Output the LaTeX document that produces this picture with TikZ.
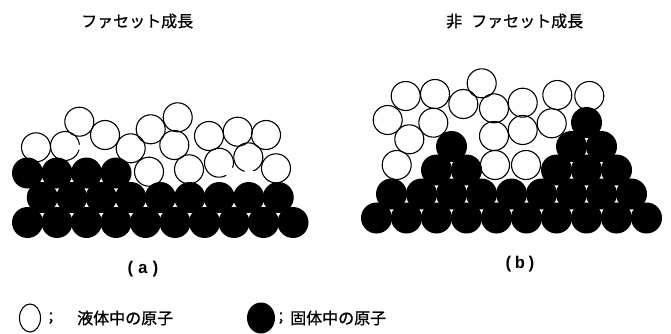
\documentclass[tikz,border=0pt]{standalone}
\usepackage{fontspec}
\newfontfamily\jpfont{Noto Sans CJK JP}[FakeBold=0.9]
\newfontfamily\labelfont{Liberation Mono}
\begin{document}
\begin{tikzpicture}[x=1pt,y=-1pt,
  solidatom/.style={fill=black},
  liquidatom/.style={draw=black,line width=1.1pt},
  heading/.style={font=\jpfont\fontsize{16}{16}\selectfont,inner sep=0pt,anchor=west},
  panellabel/.style={font=\labelfont\bfseries\fontsize{17}{17}\selectfont,inner sep=0pt},
  legendtext/.style={font=\jpfont\fontsize{16}{16}\selectfont,inner sep=0pt,anchor=west}]
\useasboundingbox (0,0) rectangle (671,334);

% headings
\node[heading] (ha) at (81,21) {ファセット成長};
\node[heading] (hb) at (446,21) {非\hspace{9pt}ファセット成長};

% ---------- (a) facet growth ----------
% liquid atoms
\foreach \x/\y in {36/147.3, 79.3/121.7, 105/135, 130.7/148.3, 150.7/129.3,
                   177.7/117.3, 174.3/145, 149/171.7, 189/169.3, 209/136,
                   237.7/131.7, 266/135, 276/168.3}
  \draw[liquidatom] (\x,\y) circle (14.5);
\draw[liquidatom] (65,146) ++(15:14.5) arc[start angle=15,end angle=355,radius=14.5];
\draw[liquidatom] (219,162.7) ++(60:14.5) arc[start angle=60,end angle=380,radius=14.5];
\draw[liquidatom] (248.3,157.3) ++(105:14.5) arc[start angle=105,end angle=430,radius=14.5];
% solid atoms
\foreach \i in {0,...,9} \fill[solidatom] ({27.5+29.5*\i},222.5) circle (15.5);
\foreach \i in {0,...,8} \fill[solidatom] ({42.25+29.5*\i},197.5) circle (15.5);
\foreach \i in {0,...,3} \fill[solidatom] ({27.5+29.5*\i},173) circle (15.5);

% ---------- (b) non-facet growth ----------
% liquid atoms
\foreach \x/\y in {405.7/96, 435/94, 481.7/83.3, 463.3/104, 494/108.3,
                   522.7/102.7, 557.3/95, 589.3/96, 387.7/120, 433.3/122.7,
                   409.3/139.3, 494/136, 522.7/130, 551.7/123.3,
                   396.7/165, 495/165, 526/165}
  \draw[liquidatom] (\x,\y) circle (14.5);
% solid atoms
\foreach \i in {0,...,9} \fill[solidatom] ({376.5+30*\i},218) circle (15.5);
\foreach \i in {0,...,8} \fill[solidatom] ({391.5+30*\i},194) circle (15.5);
\foreach \x in {436.5,466.5,556.5,586.5,616.5} \fill[solidatom] (\x,170) circle (15.5);
\foreach \x in {451.5,571.5,601.5} \fill[solidatom] (\x,146.5) circle (15.5);
\fill[solidatom] (586.5,122.5) circle (15.5);

% panel labels
\node[panellabel] (la) at (143,269) {(\hspace{2pt}a\hspace{2pt})};
\node[panellabel] (lb) at (520,264) {(\hspace{1pt}b\hspace{1pt})};

% legend
\draw[liquidatom] (30,318) ellipse [x radius=10.5,y radius=14];
\node[legendtext,anchor=center] (sa) at (51,318) {;};
\node[legendtext] (ta) at (77,318) {液体中の原子};
\fill[solidatom] (261,318) ellipse [x radius=14,y radius=15.5];
\node[legendtext,anchor=center] (sb) at (281,318) {;};
\node[legendtext] (tb) at (290,318) {固体中の原子};
\end{tikzpicture}
\end{document}
